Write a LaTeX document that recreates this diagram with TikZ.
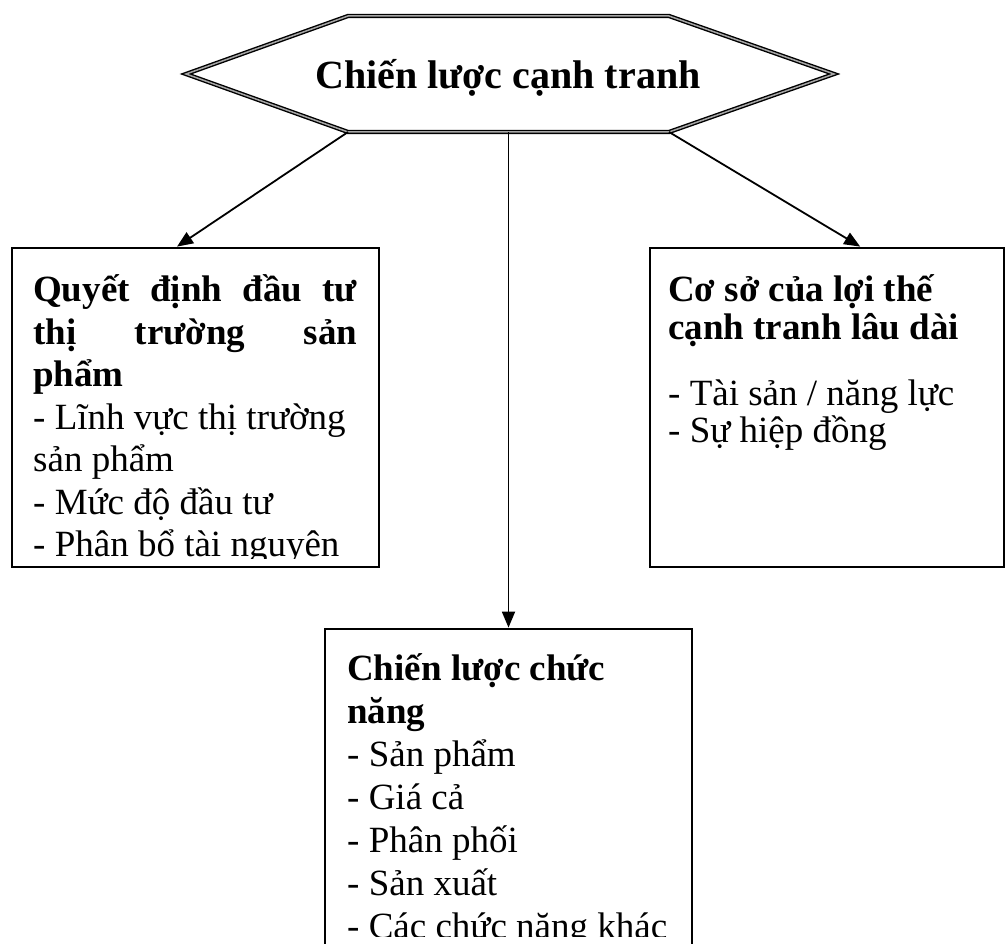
\documentclass[tikz,border=0pt]{standalone}
\usepackage{fontspec}
\setmainfont{Liberation Serif}
\usetikzlibrary{arrows.meta,calc}
\begin{document}
\begin{tikzpicture}[x=1pt,y=-1pt,
  box/.style={draw,line width=2.8pt,rectangle,inner sep=0pt},
  conn/.style={line width=1.8pt,-{Triangle[length=16pt,width=13pt]}},
  txt/.style={inner sep=0pt,anchor=base west,font=\fontsize{37}{42.5}\selectfont},
  hexline/.style={double=gray!70,line width=1.4pt,double distance=1.5pt,line join=miter}
]
\useasboundingbox (0,0) rectangle (1005,944);
% hexagon
\coordinate (hL) at (186,74);
\coordinate (hTL) at (348,16);
\coordinate (hTR) at (669,16);
\coordinate (hR) at (834,74);
\coordinate (hBR) at (669,132);
\coordinate (hBL) at (348,132);
\draw[hexline,fill=white] (hL) -- (hTL) -- (hTR) -- (hR) -- (hBR) -- (hBL) -- cycle;
\node[inner sep=0pt,anchor=base,font=\fontsize{40}{48}\selectfont\bfseries] (title) at (508,89) {Chiến lược cạnh tranh};

% boxes
\node[box,minimum width=367pt,minimum height=319pt] (lbox) at (195.5,407.5) {};
\node[box,minimum width=354pt,minimum height=319pt] (rbox) at (827,407.5) {};
\node[box,minimum width=367pt,minimum height=340pt] (bbox) at (508.5,799) {};

% left text
\begin{scope}
\clip (lbox.north west) rectangle ($(lbox.south east)+(0,-10)$);
\node[txt] (ltext) at (33,302) {\vtop{\lineskiplimit=-\maxdimen
\hbox to 324pt{\bfseries Quyết\hfill định\hfill đầu\hfill tư}
\hbox to 324pt{\bfseries thị\hfill trường\hfill sản}
\hbox{\bfseries phẩm}
\hbox{- Lĩnh vực thị trường}
\hbox{sản phẩm}
\hbox{- Mức độ đầu tư}
\hbox{- Phân bổ tài nguyên}}};
\end{scope}

% right text
\node[txt] (rtext) at (668,302) {\vtop{\lineskiplimit=-\maxdimen\baselineskip=37.5pt
\hbox{\bfseries Cơ sở của lợi thế}
\hbox{\bfseries cạnh tranh lâu dài}
\vskip 28.5pt
\hbox{- Tài sản / năng lực}
\hbox{- Sự hiệp đồng}}};

% bottom text
\begin{scope}
\clip (bbox.north west) rectangle (bbox.east |- 0,936);
\node[txt] (btext) at (347,680) {\vtop{\lineskiplimit=-\maxdimen\baselineskip=43pt
\hbox{\bfseries Chiến lược chức}
\hbox{\bfseries năng}
\hbox{- Sản phẩm}
\hbox{- Giá cả}
\hbox{- Phân phối}
\hbox{- Sản xuất}
\hbox{- Các chức năng khác}}};
\end{scope}

% connectors
\draw[conn] (hBL) -- ($(lbox.north west)!0.45!(lbox.north east)$);
\draw[conn] (hBR) -- ($(rbox.north west)!0.593!(rbox.north east)$);
\draw[conn] ($(hBL)!0.5!(hBR)$) -- (bbox.north);
\end{tikzpicture}
\end{document}
